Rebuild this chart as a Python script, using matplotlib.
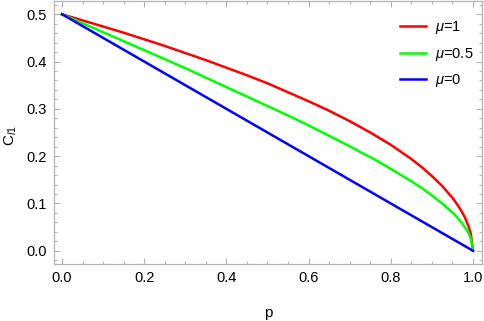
import matplotlib
matplotlib.use("Agg")
import matplotlib.pyplot as plt
from matplotlib.ticker import MultipleLocator, FormatStrFormatter

# Data
p_vals = [0.0, 0.05, 0.1, 0.15, 0.2, 0.25, 0.3, 0.35, 0.4, 0.45, 0.5, 0.55, 0.6,
          0.65, 0.7, 0.725, 0.75, 0.775, 0.8, 0.825, 0.85, 0.875, 0.9, 0.925, 0.95,
          0.96, 0.97, 0.98, 0.985, 0.99, 0.995, 1.0]
c_mu1 = [0.500, 0.487, 0.474, 0.461, 0.447, 0.433, 0.418, 0.403, 0.387, 0.371, 0.354,
         0.335, 0.316, 0.296, 0.274, 0.262, 0.250, 0.237, 0.224, 0.209, 0.194, 0.177,
         0.158, 0.137, 0.112, 0.100, 0.087, 0.071, 0.061, 0.050, 0.035, 0.0]
c_mu05 = [0.500, 0.481, 0.462, 0.443, 0.424, 0.405, 0.386, 0.366, 0.346, 0.326, 0.306,
          0.286, 0.265, 0.243, 0.221, 0.209, 0.198, 0.186, 0.173, 0.160, 0.147, 0.133,
          0.117, 0.100, 0.081, 0.072, 0.062, 0.050, 0.044, 0.036, 0.025, 0.0]
c_mu0 = [0.500, 0.475, 0.450, 0.425, 0.400, 0.375, 0.350, 0.325, 0.300, 0.275, 0.250,
         0.225, 0.200, 0.175, 0.150, 0.1375, 0.125, 0.1125, 0.100, 0.0875, 0.075, 0.0625,
         0.050, 0.0375, 0.025, 0.020, 0.015, 0.010, 0.0075, 0.005, 0.0025, 0.0]
labels = [r"$\mu$=1", r"$\mu$=0.5", r"$\mu$=0"]
colors = ["#ff0000", "#00ff00", "#0000ff"]

plt.rcParams["font.family"] = ["Liberation Sans", "DejaVu Sans"]
plt.rcParams["mathtext.fontset"] = "custom"
plt.rcParams["mathtext.it"] = "Liberation Sans:italic"
plt.rcParams["mathtext.rm"] = "Liberation Sans"

fig = plt.figure(figsize=(4.84, 3.21), dpi=100)
ax = fig.add_axes([54/484, 1 - 264/321, (482-54)/484, (264-1)/321])

for y, lab, col in zip([c_mu1, c_mu05, c_mu0], labels, colors):
    ax.plot(p_vals, y, color=col, lw=1.8, label=lab, solid_joinstyle="round")

ax.set_xlim(-0.0195, 1.022)
ax.set_ylim(-0.028, 0.528)
ax.xaxis.set_major_locator(MultipleLocator(0.2))
ax.xaxis.set_minor_locator(MultipleLocator(0.05))
ax.yaxis.set_major_locator(MultipleLocator(0.1))
ax.yaxis.set_minor_locator(MultipleLocator(0.02))
ax.xaxis.set_major_formatter(FormatStrFormatter("%.1f"))
ax.yaxis.set_major_formatter(FormatStrFormatter("%.1f"))

gray = "#b3b3b3"
for s in ax.spines.values():
    s.set_color(gray)
    s.set_linewidth(0.9)
ax.tick_params(which="both", direction="in", top=True, right=True, color=gray,
               labelsize=10.5, labelcolor="black", width=0.8)
ax.tick_params(which="major", length=4.5, pad=5)
ax.tick_params(which="minor", length=2.5)

ax.set_xlabel("p", fontsize=11, labelpad=15)
ax.set_ylabel("C$_{l1}$", fontsize=11)
ax.yaxis.set_label_coords(-0.082, 0.49)

leg = ax.legend(loc="upper right", frameon=False, fontsize=10.5, handlelength=1.8,
                handletextpad=0.6, labelspacing=0.65, bbox_to_anchor=(0.994, 0.953),
                borderaxespad=0.0)

fig.savefig("out.png", dpi=100)
